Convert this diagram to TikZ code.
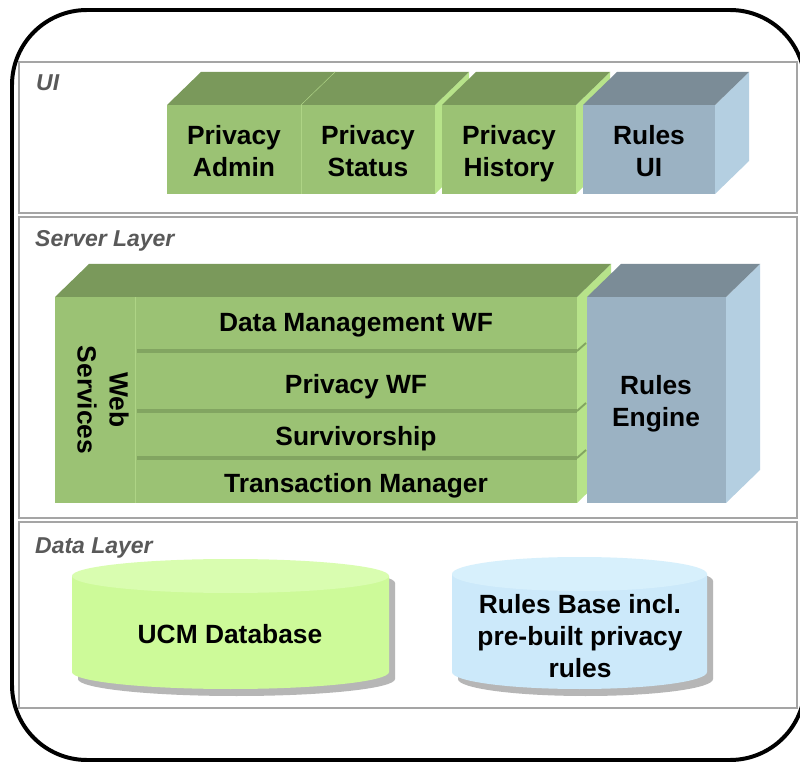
\documentclass[tikz,border=0pt]{standalone}
\usepackage{fontspec}
\setmainfont{Liberation Sans}
\definecolor{gfront}{HTML}{9BC274}
\definecolor{gtop}{HTML}{7A995B}
\definecolor{gside}{HTML}{B7E38A}
\definecolor{gsep}{HTML}{82A561}
\definecolor{glight}{HTML}{AED485}
\definecolor{bfront}{HTML}{9BB2C3}
\definecolor{btop}{HTML}{7B8C97}
\definecolor{bside}{HTML}{B4CFE1}
\definecolor{dbbody}{HTML}{CDFA99}
\definecolor{dbtop}{HTML}{D9FDB0}
\definecolor{rbbody}{HTML}{CCE9FA}
\definecolor{rbtop}{HTML}{D7F0FC}
\definecolor{framegray}{HTML}{A5A5A5}
\definecolor{labelgray}{HTML}{595959}
\definecolor{shadowgray}{HTML}{B6B6B6}

% three visible faces of a box: x1 y1 x2 y2 (front face), front/top/side colours
\newcommand{\drawcube}[7]{%
  \fill[#7] (#3,#2) -- (#3+34,#2-33) -- (#3+34,#4-33) -- (#3,#4) -- cycle;
  \fill[#6] (#1,#2) -- (#1+34,#2-33) -- (#3+34,#2-33) -- (#3,#2) -- cycle;
  \fill[#5] (#1,#2) rectangle (#3,#4);
}
% database cylinder: left x, right x, top-ellipse centre y, bottom y of side, body/top colours
\newcommand{\drawdb}[6]{%
  \fill[shadowgray, shift={(6,7)}] (#1,#3) -- (#1,#4) arc (180:0:{(#2-#1)/2} and 17) -- (#2,#3) -- cycle;
  \fill[shadowgray, shift={(6,7)}] ({(#1+#2)/2},#3) ellipse ({(#2-#1)/2} and 17);
  \fill[#5] (#1,#3) -- (#1,#4) arc (180:0:{(#2-#1)/2} and 17) -- (#2,#3) -- cycle;
  \fill[#6] ({(#1+#2)/2},#3) ellipse ({(#2-#1)/2} and 17);
}

\tikzset{
  boxtext/.style={font=\fontsize{22.5}{27.3}\selectfont\bfseries, align=center, text=black, inner sep=0pt},
  layerlabel/.style={font=\fontsize{19.6}{23}\selectfont\bfseries\itshape, text=labelgray, anchor=base west, inner sep=0pt},
  layerframe/.style={draw=framegray, line width=2.4pt},
  outerframe/.style={draw=black, line width=3.4pt, rounded corners=64pt}
}

\begin{document}
\begin{tikzpicture}[x=0.03cm, y=-0.03cm]
\useasboundingbox (0,0) rectangle (800,763);
\clip (0,0) rectangle (800,763);
\fill[white] (0,0) rectangle (800,763);

% layer frames
\draw[layerframe] (19,62) rectangle (797,213);
\draw[layerframe] (19,217) rectangle (797,518);
\draw[layerframe] (19,522) rectangle (797,708);

\node[layerlabel] (lui) at (36,91) {UI};
\node[layerlabel] (lserver) at (35,247) {Server Layer};
\node[layerlabel] (ldata) at (35,553) {Data Layer};

% UI layer boxes
\drawcube{167}{105}{301}{194}{gfront}{gtop}{gside}
\drawcube{301}{105}{435}{194}{gfront}{gtop}{gside}
\draw[glight, line width=0.8pt] (301,105) -- (301,194);
\draw[glight, line width=0.4pt] (301,105) -- (335,72);
\drawcube{442}{105}{576}{194}{gfront}{gtop}{gside}
\drawcube{583}{105}{715}{194}{bfront}{btop}{bside}

\node[boxtext] (admin) at (234,151) {Privacy\\Admin};
\node[boxtext] (status) at (368,151) {Privacy\\Status};
\node[boxtext] (history) at (509,154) {Privacy\\History};
\node[boxtext] (rulesui) at (649,151) {Rules\\UI};

% server layer: services stack
\drawcube{55}{297}{577}{503}{gfront}{gtop}{gside}
\draw[glight, line width=0.8pt] (135,297) -- (135,503);
\foreach \yy in {351,411,458}{
  \draw[gsep, line width=2.6pt] (137,\yy) -- (577,\yy);
  \draw[gsep, line width=1.6pt] (577,\yy) -- (586,\yy-8);
}
\drawcube{587}{297}{726}{503}{bfront}{btop}{bside}

\node[boxtext, rotate=-90] (websvc) at (103,400) {Web\\Services};
\node[boxtext] (dmwf) at (356,325) {Data Management WF};
\node[boxtext] (pwf) at (356,387) {Privacy WF};
\node[boxtext] (surv) at (356,439) {Survivorship};
\node[boxtext] (txm) at (356,486) {Transaction Manager};
\node[boxtext] (engine) at (656,404) {Rules\\Engine};

% data layer: databases
\drawdb{72}{389}{576}{672}{dbbody}{dbtop}
\drawdb{452}{707}{574}{672}{rbbody}{rbtop}
\node[boxtext] (ucm) at (230,634) {UCM Database};
\node[boxtext] (rbase) at (580,636) {Rules Base incl.\\pre-built privacy\\rules};

% outer rounded border
\draw[outerframe] (12,10) rectangle (805,760);
\end{tikzpicture}
\end{document}
